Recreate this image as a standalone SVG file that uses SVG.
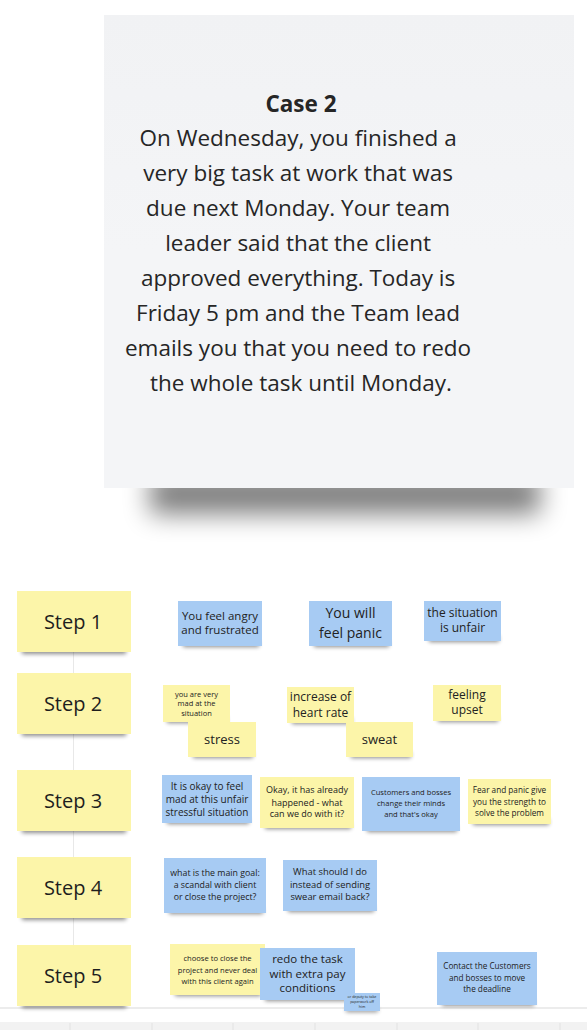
<svg xmlns="http://www.w3.org/2000/svg" width="587" height="1030" viewBox="0 0 587 1030">
  <defs>
    <filter id="soft" x="-20%" y="-200%" width="140%" height="500%">
      <feGaussianBlur stdDeviation="2.2"/>
    </filter>
    <filter id="bigsoft" x="-30%" y="-150%" width="160%" height="400%">
      <feGaussianBlur stdDeviation="13"/>
    </filter>
    <linearGradient id="cardfill" x1="0" y1="0" x2="0" y2="1">
      <stop offset="0" stop-color="#f1f2f4"/>
      <stop offset="0.5" stop-color="#f4f5f7"/>
      <stop offset="1" stop-color="#f4f5f7"/>
    </linearGradient>
  </defs>
  <style>
    text { font-family: "Open Sans", "Noto Sans", "Liberation Sans", sans-serif; fill: #222; text-anchor: middle; }
    .yellow { fill: #fcf5a9; }
    .blue { fill: #a7cbf3; }
    .shadow { fill: #000; opacity: 0.45; filter: url(#soft); }
    .step { font-size: 20px; fill: #1e1e1e; }
    .case { font-size: 22.5px; fill: #262626; }
  </style>

  <rect x="0" y="0" width="587" height="1030" fill="#ffffff"/>

  <!-- board edge at the bottom -->
  <line x1="0" y1="1008" x2="587" y2="1008" stroke="#e6e6e6" stroke-width="1.5"/>
  <rect x="0" y="1022" width="587" height="8" fill="#f2f2f2"/>
  <g stroke="#e2e2e2" stroke-width="1">
    <line x1="70" y1="1023" x2="70" y2="1030"/>
    <line x1="152" y1="1023" x2="152" y2="1030"/>
    <line x1="233" y1="1023" x2="233" y2="1030"/>
    <line x1="315" y1="1023" x2="315" y2="1030"/>
    <line x1="397" y1="1023" x2="397" y2="1030"/>
    <line x1="478" y1="1023" x2="478" y2="1030"/>
    <line x1="560" y1="1023" x2="560" y2="1030"/>
  </g>

  <!-- case card -->
  <g id="case-card">
    <rect x="150" y="474" width="390" height="40" fill="#000" opacity="0.5" filter="url(#bigsoft)"/>
    <rect x="104" y="15" width="470" height="473" fill="url(#cardfill)"/>
    <text class="case" x="301" y="112" font-weight="bold">Case 2</text>
    <text class="case">
      <tspan x="301" y="146">On Wednesday, you finished a</tspan>
      <tspan x="301" y="181">very big task at work that was</tspan>
      <tspan x="301" y="216">due next Monday. Your team</tspan>
      <tspan x="301" y="251">leader said that the client</tspan>
      <tspan x="301" y="286">approved everything. Today is</tspan>
      <tspan x="301" y="321">Friday 5 pm and the Team lead</tspan>
      <tspan x="301" y="356">emails you that you need to redo</tspan>
      <tspan x="301" y="391">the whole task until Monday.</tspan>
    </text>
  </g>

  <!-- connector running down the step column -->
  <g id="connectors">
    <line x1="73.5" y1="652" x2="73.5" y2="945" stroke="#e8e8e8" stroke-width="1"/>
  </g>

  <!-- step labels -->
  <g id="step-1">
    <rect class="shadow" x="22" y="646" width="104" height="8"/>
    <rect class="yellow" x="17" y="591" width="114" height="61"/>
    <text class="step" x="73" y="629">Step 1</text>
  </g>
  <g id="step-2">
    <rect class="shadow" x="22" y="728" width="104" height="8"/>
    <rect class="yellow" x="17" y="673" width="114" height="61"/>
    <text class="step" x="73" y="711">Step 2</text>
  </g>
  <g id="step-3">
    <rect class="shadow" x="22" y="825" width="104" height="8"/>
    <rect class="yellow" x="17" y="770" width="114" height="61"/>
    <text class="step" x="73" y="808">Step 3</text>
  </g>
  <g id="step-4">
    <rect class="shadow" x="22" y="912" width="104" height="8"/>
    <rect class="yellow" x="17" y="857" width="114" height="61"/>
    <text class="step" x="73" y="895">Step 4</text>
  </g>
  <g id="step-5">
    <rect class="shadow" x="22" y="1000" width="104" height="8"/>
    <rect class="yellow" x="17" y="945" width="114" height="61"/>
    <text class="step" x="73" y="983">Step 5</text>
  </g>

  <!-- step 1 notes -->
  <g id="note-angry">
    <rect class="shadow" x="183" y="641" width="76" height="6"/>
    <rect class="blue" x="178" y="601" width="84" height="45"/>
    <text font-size="11.5"><tspan x="220" y="620">You feel angry</tspan><tspan x="220" y="634">and frustrated</tspan></text>
  </g>
  <g id="note-panic">
    <rect class="shadow" x="314" y="641" width="75" height="6"/>
    <rect class="blue" x="309" y="601" width="83" height="45"/>
    <text font-size="14"><tspan x="350.5" y="618">You will</tspan><tspan x="350.5" y="638">feel panic</tspan></text>
  </g>
  <g id="note-unfair">
    <rect class="shadow" x="429" y="636" width="70" height="6"/>
    <rect class="blue" x="424" y="601" width="77" height="40"/>
    <text font-size="12"><tspan x="462.5" y="617">the situation</tspan><tspan x="462.5" y="632">is unfair</tspan></text>
  </g>

  <!-- step 2 notes -->
  <g id="note-mad">
    <rect class="shadow" x="167" y="717" width="60" height="6"/>
    <rect class="yellow" x="163" y="685" width="67" height="37"/>
    <text font-size="7.5"><tspan x="196.5" y="697">you are very</tspan><tspan x="196.5" y="706">mad at the</tspan><tspan x="196.5" y="716">situation</tspan></text>
  </g>
  <g id="note-stress">
    <rect class="shadow" x="193" y="752" width="60" height="6"/>
    <rect class="yellow" x="188" y="722" width="68" height="35"/>
    <text font-size="13"><tspan x="222" y="744">stress</tspan></text>
  </g>
  <g id="note-heart">
    <rect class="shadow" x="292" y="718" width="60" height="6"/>
    <rect class="yellow" x="287" y="687" width="67" height="36"/>
    <text font-size="12"><tspan x="320.5" y="701">increase of</tspan><tspan x="320.5" y="717">heart rate</tspan></text>
  </g>
  <g id="note-sweat">
    <rect class="shadow" x="351" y="752" width="60" height="6"/>
    <rect class="yellow" x="346" y="722" width="67" height="35"/>
    <text font-size="13"><tspan x="379.5" y="744">sweat</tspan></text>
  </g>
  <g id="note-upset">
    <rect class="shadow" x="438" y="716" width="60" height="6"/>
    <rect class="yellow" x="433" y="685" width="68" height="36"/>
    <text font-size="12"><tspan x="467" y="699">feeling</tspan><tspan x="467" y="714">upset</tspan></text>
  </g>

  <!-- step 3 notes -->
  <g id="note-okay-mad">
    <rect class="shadow" x="167" y="818" width="82" height="6"/>
    <rect class="blue" x="162" y="775" width="90" height="48"/>
    <text font-size="10"><tspan x="207" y="790">It is okay to feel</tspan><tspan x="207" y="803">mad at this unfair</tspan><tspan x="207" y="816">stressful situation</tspan></text>
  </g>
  <g id="note-happened">
    <rect class="shadow" x="265" y="823" width="86" height="6"/>
    <rect class="yellow" x="260" y="777" width="94" height="51"/>
    <text font-size="9"><tspan x="307" y="793">Okay, it has already</tspan><tspan x="307" y="806">happened - what</tspan><tspan x="307" y="817">can we do with it?</tspan></text>
  </g>
  <g id="note-customers">
    <rect class="shadow" x="367" y="826" width="90" height="6"/>
    <rect class="blue" x="362" y="777" width="98" height="54"/>
    <text font-size="7.6"><tspan x="411" y="795">Customers and bosses</tspan><tspan x="411" y="806">change their minds</tspan><tspan x="411" y="817">and that's okay</tspan></text>
  </g>
  <g id="note-fear">
    <rect class="shadow" x="473" y="819" width="76" height="6"/>
    <rect class="yellow" x="468" y="779" width="83" height="45"/>
    <text font-size="8.2"><tspan x="509.5" y="793">Fear and panic give</tspan><tspan x="509.5" y="805">you the strength to</tspan><tspan x="509.5" y="816">solve the problem</tspan></text>
  </g>

  <!-- step 4 notes -->
  <g id="note-goal">
    <rect class="shadow" x="169" y="908" width="94" height="6"/>
    <rect class="blue" x="164" y="858" width="102" height="55"/>
    <text font-size="8.8"><tspan x="215" y="876">what is the main goal:</tspan><tspan x="215" y="888">a scandal with client</tspan><tspan x="215" y="900">or close the project?</tspan></text>
  </g>
  <g id="note-email">
    <rect class="shadow" x="288" y="906" width="86" height="6"/>
    <rect class="blue" x="283" y="860" width="94" height="51"/>
    <text font-size="9.4"><tspan x="330" y="875">What should I do</tspan><tspan x="330" y="888">instead of sending</tspan><tspan x="330" y="900">swear email back?</tspan></text>
  </g>

  <!-- step 5 notes -->
  <g id="note-close">
    <rect class="shadow" x="175" y="990" width="86" height="6"/>
    <rect class="yellow" x="170" y="944" width="95" height="51"/>
    <text font-size="7.6"><tspan x="217.5" y="961">choose to close the</tspan><tspan x="217.5" y="973">project and never deal</tspan><tspan x="217.5" y="984">with this client again</tspan></text>
  </g>
  <g id="note-redo">
    <rect class="shadow" x="265" y="995" width="86" height="6"/>
    <rect class="blue" x="260" y="948" width="95" height="52"/>
    <text font-size="11.5"><tspan x="307.5" y="963">redo the task</tspan><tspan x="307.5" y="978">with extra pay</tspan><tspan x="307.5" y="992">conditions</tspan></text>
  </g>
  <g id="note-deputy">
    <rect class="shadow" x="346" y="1008" width="32" height="4"/>
    <rect class="blue" x="344" y="993" width="36" height="18"/>
    <text font-size="3.6"><tspan x="362" y="998">or deputy to take</tspan><tspan x="362" y="1003">paperwork off</tspan><tspan x="362" y="1008">him</tspan></text>
  </g>
  <g id="note-deadline">
    <rect class="shadow" x="442" y="1000" width="92" height="6"/>
    <rect class="blue" x="437" y="952" width="100" height="53"/>
    <text font-size="8.2"><tspan x="487" y="969">Contact the Customers</tspan><tspan x="487" y="981">and bosses to move</tspan><tspan x="487" y="992">the deadline</tspan></text>
  </g>
</svg>
